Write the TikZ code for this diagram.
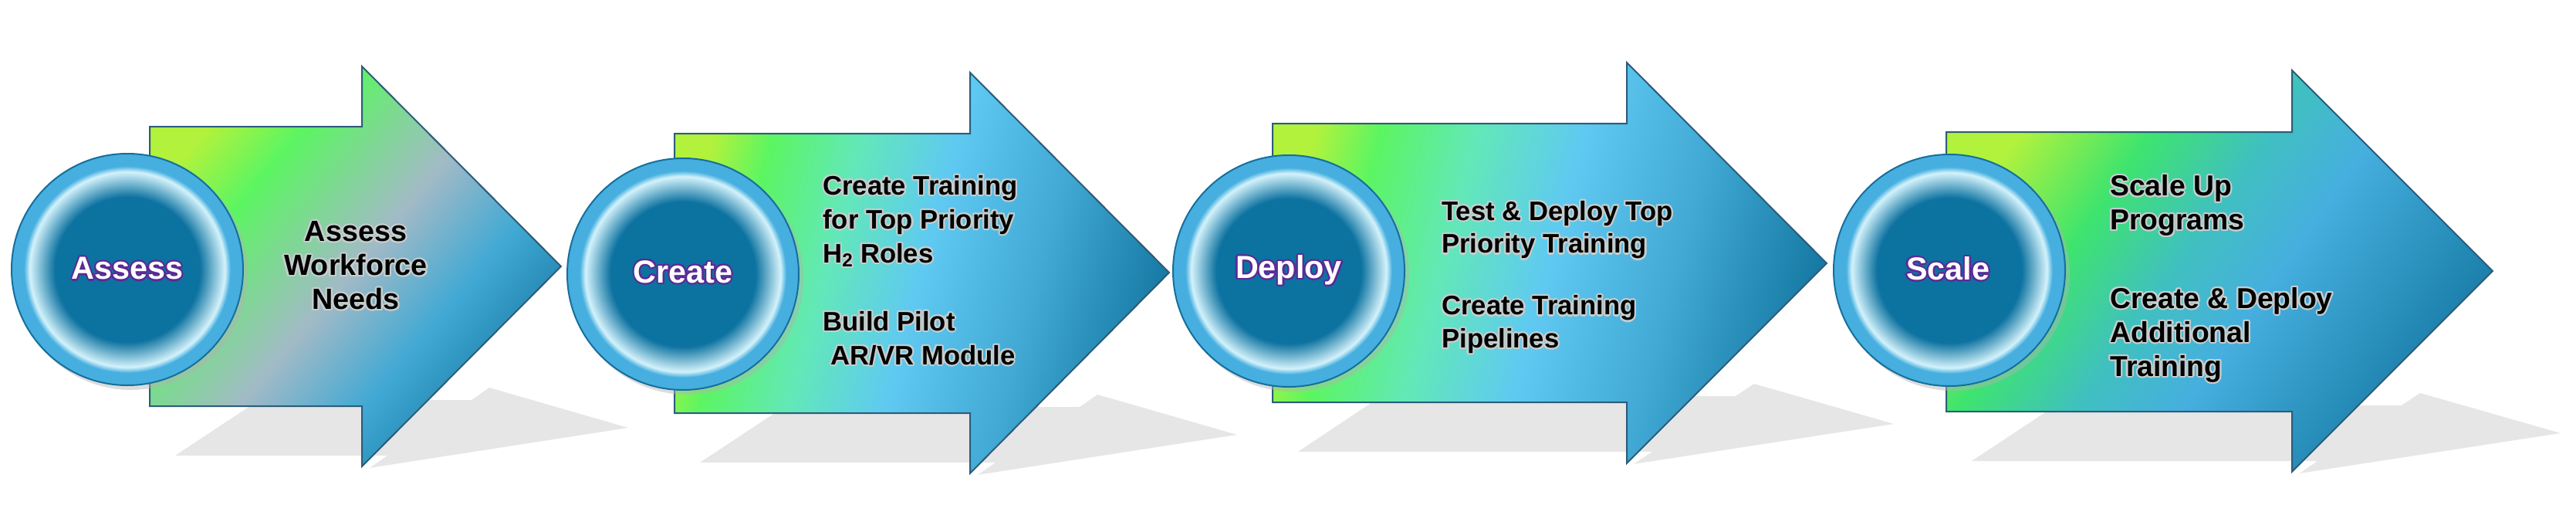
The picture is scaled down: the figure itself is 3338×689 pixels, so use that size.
\documentclass[tikz,border=0pt]{standalone}
\usepackage{fontspec}
\setmainfont{Liberation Sans}
\usepackage[copies]{contour}
\usepackage{tikz}

\definecolor{ygreen}{HTML}{B2F23C}
\definecolor{lgreen}{HTML}{5CF562}
\definecolor{graybl}{HTML}{A2BAC6}
\definecolor{skyb}{HTML}{41A9D4}
\definecolor{deepb}{HTML}{167AA4}
\definecolor{mintg}{HTML}{62E8B8}
\definecolor{cyanb}{HTML}{5FC9F2}
\definecolor{tealg}{HTML}{3EE46E}
\definecolor{tealb}{HTML}{40C0C0}
\definecolor{arrowedge}{HTML}{2D5C7A}
\definecolor{ringcol}{HTML}{46AFDF}
\definecolor{corecol}{HTML}{0C72A0}
\definecolor{glowcol}{HTML}{D3F2FB}
\definecolor{ringedge}{HTML}{156F9C}
\definecolor{labelpurple}{HTML}{5B2A96}
\definecolor{glowgray}{HTML}{C6CDCD}
\definecolor{shadowgray}{HTML}{E6E6E6}

\pgfdeclarehorizontalshading{assessshade}{100bp}{color(0bp)=(ygreen); color(25bp)=(ygreen); color(34bp)=(lgreen); color(50bp)=(graybl); color(62bp)=(skyb); color(75bp)=(deepb); color(100bp)=(deepb)}
\pgfdeclarehorizontalshading{createshade}{100bp}{color(0bp)=(ygreen); color(25bp)=(ygreen); color(31bp)=(lgreen); color(40bp)=(mintg); color(50bp)=(cyanb); color(62bp)=(skyb); color(75bp)=(deepb); color(100bp)=(deepb)}
\pgfdeclarehorizontalshading{scaleshade}{100bp}{color(0bp)=(ygreen); color(25bp)=(ygreen); color(36bp)=(tealg); color(46bp)=(tealb); color(55bp)=(ringcol); color(75bp)=(deepb); color(100bp)=(deepb)}
\pgfdeclareradialshading{discglow}{\pgfpoint{0bp}{0bp}}{color(0bp)=(corecol); color(17.5bp)=(corecol); color(23.6bp)=(glowcol); color(25bp)=(ringcol); color(50bp)=(ringcol)}

\newcommand{\glow}[1]{\contourlength{1.6pt}\contour{glowgray}{#1}}
\newcommand{\lbl}[1]{\contourlength{1.6pt}\contour{labelpurple}{\textcolor{white}{#1}}}

\tikzset{
  arrowline/.style={draw=arrowedge, line width=1.5pt, line join=miter},
  discring/.style={draw=ringedge, line width=1.5pt, fill=ringcol},
  discshadow/.style={fill=black!30, opacity=0.45},
  disclabel/.style={inner sep=0.75pt, font=\fontsize{31}{36}\selectfont\bfseries},
  steptext/.style={inner sep=0.75pt, text=black}
}

\begin{document}
\begin{tikzpicture}[x=0.75pt,y=0.75pt,yscale=-1,xscale=1]
\useasboundingbox (0,0) rectangle (3338,689);

%Shadows under the arrows
\fill[shadowgray] (227,590) -- (336,518) -- (611,518) -- (634,502) -- (814,554) -- (479,606) -- (502,590) -- cycle ;
\fill[shadowgray] (907,599) -- (1016,527) -- (1399,527) -- (1422,511) -- (1603,563) -- (1267,615) -- (1290,599) -- cycle ;
\fill[shadowgray] (1682,585) -- (1790,513) -- (2249,513) -- (2273,497) -- (2454,549) -- (2117,601) -- (2141,585) -- cycle ;
\fill[shadowgray] (2555,597) -- (2664,525) -- (3112,525) -- (3136,509) -- (3318,561) -- (2980,613) -- (3003,597) -- cycle ;

%Right Arrow (Assess)
\shade[arrowline, shading=assessshade, shading angle=-40] (194,164) -- (469,164) -- (469,86) -- (727,345) -- (469,604) -- (469,526) -- (194,526) -- cycle ;
%Right Arrow (Create)
\shade[arrowline, shading=createshade, shading angle=-15] (874,173) -- (1257,173) -- (1257,94) -- (1515,353) -- (1257,613) -- (1257,535) -- (874,535) -- cycle ;
%Right Arrow (Deploy)
\shade[arrowline, shading=createshade, shading angle=-15] (1649,160) -- (2108,160) -- (2108,81) -- (2367,341) -- (2108,600) -- (2108,521) -- (1649,521) -- cycle ;
%Right Arrow (Scale)
\shade[arrowline, shading=scaleshade, shading angle=-35] (2522,171) -- (2970,171) -- (2970,91) -- (3230,351) -- (2970,611) -- (2970,533) -- (2522,533) -- cycle ;

%Discs
\fill[discshadow] (170,354) circle (151) ;
\draw[discring] (165,349) circle (150) ;
\shade[shading=discglow] (165,349) circle (134) ;

\fill[discshadow] (890,360) circle (151) ;
\draw[discring] (885,355) circle (150) ;
\shade[shading=discglow] (885,355) circle (134) ;

\fill[discshadow] (1675,356) circle (151) ;
\draw[discring] (1670,351) circle (150) ;
\shade[shading=discglow] (1670,351) circle (134) ;

\fill[discshadow] (2531,355) circle (151) ;
\draw[discring] (2526,350) circle (150) ;
\shade[shading=discglow] (2526,350) circle (134) ;

% Text Node
\node[disclabel] (assesslbl) at (165,349) {\lbl{Assess}};
\node[disclabel] (createlbl) at (885,353) {\lbl{Create}};
\node[disclabel] (deploylbl) at (1670,351) {\lbl{Deploy}};
\node[disclabel] (scalelbl) at (2524,349) {\lbl{Scale}};

% Text Node
\node[steptext, align=center, font=\fontsize{28.3}{33}\selectfont\bfseries] (assesstxt) at (461,345) {\glow{Assess}\\\glow{Workforce}\\\glow{Needs}};
% Text Node
\node[steptext, anchor=west, align=left, font=\fontsize{26}{33}\selectfont\bfseries] (createtxt) at (1065,351) {\glow{Create Training}\\\glow{for Top Priority}\\\glow{H\textsubscript{2} Roles}\\[33pt]\glow{Build Pilot}\\\hspace*{0.3em}\glow{AR/VR Module}};
% Text Node
\node[steptext, anchor=west, align=left, font=\fontsize{26}{32}\selectfont\bfseries] (deploytxt) at (1867,360) {\glow{Test \& Deploy Top}\\\glow{Priority Training}\\[28pt]\glow{Create Training}\\\glow{Pipelines}};
% Text Node
\node[steptext, anchor=west, align=left, font=\fontsize{28}{33}\selectfont\bfseries] (scaletxt) at (2733,362) {\glow{Scale Up}\\\glow{Programs}\\[43pt]\glow{Create \& Deploy}\\\glow{Additional}\\\glow{Training}};

\end{tikzpicture}
\end{document}
